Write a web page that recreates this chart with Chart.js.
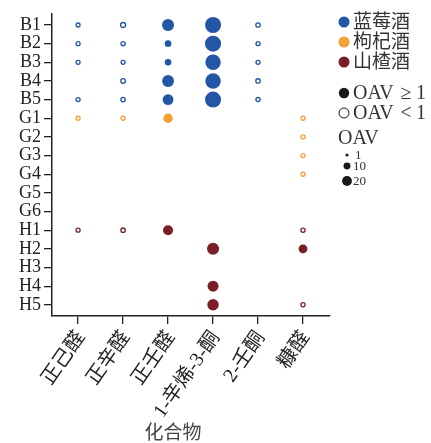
<!DOCTYPE html>
<html lang="zh">
<head>
  <meta charset="UTF-8" />
  <title>OAV bubble chart</title>
  <script src="https://cdn.jsdelivr.net/npm/chart.js"></script>
  <style>
    body { margin: 0; background: #fff; }
  </style>
</head>
<body>
  <canvas id="chartOav" width="431" height="443"></canvas>

  <script>
    // categories
    const compounds = ['正己醛', '正辛醛', '正壬醛', '1-辛烯-3-酮', '2-壬酮', '糠醛'];
    const samples = ['B1', 'B2', 'B3', 'B4', 'B5', 'G1', 'G2', 'G3', 'G4', 'G5', 'G6', 'H1', 'H2', 'H3', 'H4', 'H5'];

    // OAV per compound, one value per sample (null = not detected)
    const hexanal  = [0.3, 0.3, 0.3, null, 0.3,  0.3, null, null, null, null, null,  0.3, null, null, null, null];
    const octanal  = [0.8, 0.4, 0.3, 0.6, 0.5,   0.3, null, null, null, null, null,  0.5, null, null, null, null];
    const nonanal  = [30, 9, 9, 29, 24,          18, null, null, null, null, null,   21, null, null, null, null];
    const octenone = [53, 53, 49, 49, 53,        null, null, null, null, null, null, null, 30, null, 25, 27];
    const nonanone = [0.5, 0.3, 0.3, 0.5, 0.4,   null, null, null, null, null, null, null, null, null, null, null];
    const furfural = [null, null, null, null, null, 0.3, 0.3, 0.3, 0.3, null, null,  0.4, 16, null, null, 0.4];

    const oavColumns = [hexanal, octanal, nonanal, octenone, nonanone, furfural];

    const wines = [
      { name: '蓝莓酒', prefix: 'B', color: '#2356a5' },
      { name: '枸杞酒', prefix: 'G', color: '#f4a035' },
      { name: '山楂酒', prefix: 'H', color: '#7a1f25' }
    ];
    const sizeLegend = [1, 10, 20];

    // bubble radius in px from OAV
    function radius(v) {
      return v >= 1 ? 1.1 * Math.sqrt(v) : 1.7 + v;
    }

    const datasets = wines.map(w => {
      const pts = [];
      oavColumns.forEach((col, ci) => {
        col.forEach((v, si) => {
          if (v === null || !samples[si].startsWith(w.prefix)) return;
          pts.push({ x: ci, y: si, r: radius(v), oav: v });
        });
      });
      return {
        label: w.name,
        data: pts,
        borderColor: w.color,
        backgroundColor: ctx => (ctx.raw && ctx.raw.oav >= 1) ? w.color : '#ffffff',
        borderWidth: ctx => (ctx.raw && ctx.raw.oav >= 1) ? 0 : 1.3,
        clip: false
      };
    });

    const serif = '"Liberation Serif", "Noto Sans CJK SC", serif';
    const axisColor = '#222';

    // legend + axis title drawn on the canvas
    const legendPlugin = {
      id: 'oavLegend',
      afterDraw(chart) {
        const ctx = chart.ctx;
        ctx.save();
        ctx.textBaseline = 'middle';
        ctx.textAlign = 'left';
        ctx.fillStyle = '#333';
        ctx.font = '19px ' + serif;
        const dotX = 344;
        wines.forEach((w, i) => {
          const y = 22 + i * 20;
          ctx.beginPath();
          ctx.arc(dotX, y, 5.5, 0, Math.PI * 2);
          ctx.fillStyle = w.color;
          ctx.fill();
          ctx.fillStyle = '#333';
          ctx.fillText(w.name, 353, y + 1);
        });

        // OAV threshold entries, symbol spaced wide like the original
        ctx.beginPath();
        ctx.arc(dotX, 93, 5.2, 0, Math.PI * 2);
        ctx.fillStyle = '#1a1a1a';
        ctx.fill();
        ctx.beginPath();
        ctx.arc(dotX, 113, 5, 0, Math.PI * 2);
        ctx.strokeStyle = '#1a1a1a';
        ctx.lineWidth = 1;
        ctx.stroke();

        ctx.fillStyle = '#333';
        ctx.font = '20px ' + serif;
        [['≥', 94], ['<', 114]].forEach(([sym, y]) => {
          ctx.textAlign = 'left';
          ctx.fillText('OAV', 353, y);
          ctx.textAlign = 'center';
          ctx.fillText(sym, 406, y);
          ctx.textAlign = 'left';
          ctx.fillText('1', 416, y);
        });

        ctx.fillText('OAV', 338, 139);
        ctx.font = '13px ' + serif;
        const ys = [155, 166, 181];
        sizeLegend.forEach((v, i) => {
          ctx.beginPath();
          ctx.arc(347, ys[i], Math.max(1.6, radius(v)), 0, Math.PI * 2);
          ctx.fillStyle = '#1a1a1a';
          ctx.fill();
          ctx.fillStyle = '#333';
          ctx.fillText(String(v), 355 - (i ? 2 : 0), ys[i] + 1);
        });

        // x axis title
        ctx.textAlign = 'center';
        ctx.fillStyle = '#444';
        ctx.font = '19px ' + serif;
        ctx.fillText('化合物', 173, 434);
        ctx.restore();
      }
    };

    new Chart(document.getElementById('chartOav').getContext('2d'), {
      type: 'bubble',
      data: { datasets },
      plugins: [legendPlugin],
      options: {
        responsive: false,
        animation: false,
        layout: { padding: { top: 13, right: 101, left: 0, bottom: 0 } },
        plugins: { legend: { display: false }, tooltip: { enabled: false } },
        scales: {
          x: {
            type: 'linear',
            min: -0.58,
            max: 5.6,
            afterBuildTicks: s => { s.ticks = compounds.map((c, i) => ({ value: i })); },
            afterFit: s => { s.height = 127; },
            grid: { drawOnChartArea: false, drawTicks: true, tickLength: 8, color: axisColor, lineWidth: 1.3 },
            border: { display: true, color: axisColor, width: 1.5 },
            ticks: {
              autoSkip: false,
              minRotation: 55,
              maxRotation: 55,
              padding: 3,
              labelOffset: 3,
              color: '#222',
              font: { family: serif, size: 20 },
              callback: v => compounds[v]
            }
          },
          y: {
            type: 'linear',
            reverse: true,
            min: -0.6,
            max: 15.6,
            afterBuildTicks: s => { s.ticks = samples.map((c, i) => ({ value: i })); },
            afterFit: s => { s.width = 52; },
            grid: { drawOnChartArea: false, drawTicks: true, tickLength: 8, color: axisColor, lineWidth: 1.3 },
            border: { display: true, color: axisColor, width: 1.5 },
            ticks: {
              autoSkip: false,
              padding: 3,
              color: '#222',
              font: { family: serif, size: 18 },
              callback: v => samples[v]
            }
          }
        }
      }
    });
  </script>
</body>
</html>
